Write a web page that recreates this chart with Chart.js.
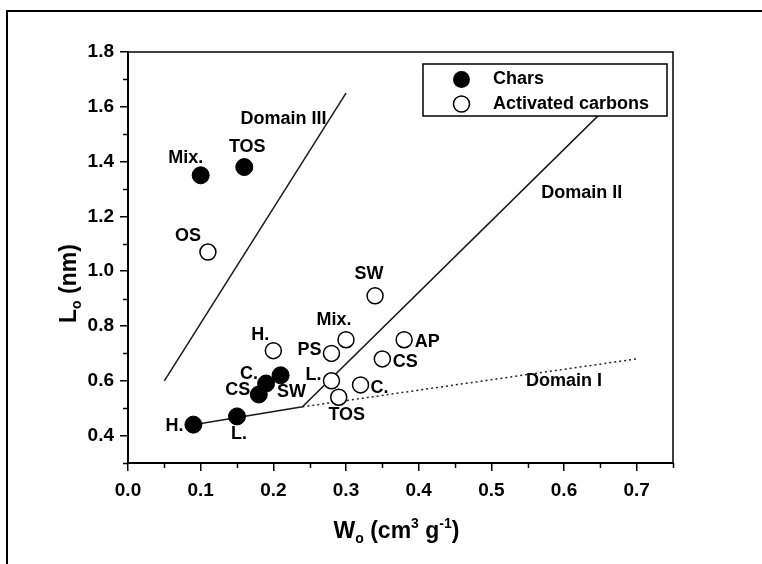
<!DOCTYPE html>
<html>
<head>
<meta charset="utf-8">
<script src="https://cdn.jsdelivr.net/npm/chart.js@4.4.0/dist/chart.umd.min.js"></script>
<style>
  html, body { margin: 0; padding: 0; background: #fff; }
  #wrap { width: 762px; height: 564px; }
</style>
</head>
<body>
<div id="wrap"><canvas id="c" width="762" height="564"></canvas></div>
<script>
// ---- data ----
const charsW = [0.09, 0.15, 0.18, 0.19, 0.21, 0.10, 0.16];
const charsL = [0.44, 0.47, 0.55, 0.59, 0.62, 1.35, 1.38];
const charsLabels = ['H.', 'L.', 'CS', 'C.', 'SW', 'Mix.', 'TOS'];

const acW = [0.11, 0.20, 0.28, 0.30, 0.34, 0.28, 0.29, 0.32, 0.35, 0.38];
const acL = [1.07, 0.71, 0.70, 0.75, 0.91, 0.60, 0.54, 0.585, 0.68, 0.75];
const acLabels = ['OS', 'H.', 'PS', 'Mix.', 'SW', 'L.', 'TOS', 'C.', 'CS', 'AP'];

const domain3W = [0.05, 0.30];
const domain3L = [0.60, 1.65];
const boundaryW = [0.09, 0.24, 0.65];
const boundaryL = [0.44, 0.505, 1.575];
const domain1W = [0.24, 0.70];
const domain1L = [0.505, 0.68];

const xTicks = [0.0, 0.1, 0.2, 0.3, 0.4, 0.5, 0.6, 0.7];
const yTicks = [0.4, 0.6, 0.8, 1.0, 1.2, 1.4, 1.6, 1.8];
const xMinor = [0.05, 0.15, 0.25, 0.35, 0.45, 0.55, 0.65, 0.75];
const yMinor = [0.3, 0.5, 0.7, 0.9, 1.1, 1.3, 1.5, 1.7];

const domainNames = ['Domain III', 'Domain II', 'Domain I'];
const domainNameW = [0.214, 0.6245, 0.600];
const domainNameL = [1.555, 1.284, 0.600];

// ---- layout / style (pixel offsets of point labels) ----
const charsLabelOffsets = [[-19, 1], [2, 18], [-21, -4], [-17, -10], [11, 17], [-15, -17], [3, -20]];
const acLabelOffsets = [[-20, -16], [-13, -16], [-22, -3], [-12, -20], [-6, -22], [-18, -6], [8, 18], [19, 3], [23, 3], [23, 2]];

const FONT = "'Liberation Sans', Arial, Helvetica, sans-serif";
const pts = (ws, ls) => ws.map((w, i) => ({ x: w, y: ls[i] }));

function drawRich(ctx, parts, x, y, align) {
  // parts: [text, size, dy]
  let total = 0;
  parts.forEach(p => { ctx.font = 'bold ' + p[1] + 'px ' + FONT; total += ctx.measureText(p[0]).width; });
  let cx = align === 'center' ? x - total / 2 : x;
  ctx.textAlign = 'left';
  ctx.textBaseline = 'alphabetic';
  parts.forEach(p => {
    ctx.font = 'bold ' + p[1] + 'px ' + FONT;
    ctx.fillText(p[0], cx, y + p[2]);
    cx += ctx.measureText(p[0]).width;
  });
}

const overlay = {
  id: 'overlay',
  beforeDraw(chart) {
    const ctx = chart.ctx;
    ctx.save();
    ctx.fillStyle = '#fff';
    ctx.fillRect(0, 0, chart.width, chart.height);
    ctx.restore();
  },
  afterDatasetsDraw(chart) {
    const ctx = chart.ctx;
    const xs = chart.scales.x, ys = chart.scales.y;
    const ca = chart.chartArea;
    ctx.save();
    ctx.fillStyle = '#000';
    ctx.textAlign = 'center';
    ctx.textBaseline = 'middle';
    ctx.font = 'bold 18px ' + FONT;
    charsLabels.forEach((t, i) => {
      const px = xs.getPixelForValue(charsW[i]), py = ys.getPixelForValue(charsL[i]);
      ctx.fillText(t, px + charsLabelOffsets[i][0], py + charsLabelOffsets[i][1]);
    });
    acLabels.forEach((t, i) => {
      const px = xs.getPixelForValue(acW[i]), py = ys.getPixelForValue(acL[i]);
      ctx.fillText(t, px + acLabelOffsets[i][0], py + acLabelOffsets[i][1]);
    });
    domainNames.forEach((t, i) => {
      ctx.fillText(t, xs.getPixelForValue(domainNameW[i]), ys.getPixelForValue(domainNameL[i]));
    });

    // legend box
    const bw = 244, bh = 52;
    const bx = ca.right - 6 - bw, by = ca.top + 12;
    ctx.fillStyle = '#fff';
    ctx.fillRect(bx, by, bw, bh);
    ctx.strokeStyle = '#000';
    ctx.lineWidth = 1.5;
    ctx.strokeRect(bx, by, bw, bh);
    const mx = bx + 38.5;
    ctx.beginPath(); ctx.arc(mx, by + 15.5, 8.5, 0, Math.PI * 2);
    ctx.fillStyle = '#000'; ctx.fill();
    ctx.beginPath(); ctx.arc(mx, by + 40, 8, 0, Math.PI * 2);
    ctx.fillStyle = '#fff'; ctx.fill(); ctx.lineWidth = 1.5; ctx.stroke();
    ctx.fillStyle = '#000';
    ctx.textAlign = 'left';
    ctx.font = 'bold 18px ' + FONT;
    ctx.fillText(chart.data.datasets[0].label, bx + 70, by + 15.5);
    ctx.fillText(chart.data.datasets[1].label, bx + 70, by + 40);
    ctx.restore();
  },
  afterDraw(chart) {
    const ctx = chart.ctx;
    const xs = chart.scales.x, ys = chart.scales.y;
    const ca = chart.chartArea;
    ctx.save();
    ctx.strokeStyle = '#000';
    // top and right frame of plot
    ctx.lineWidth = 1.5;
    ctx.beginPath();
    ctx.moveTo(ca.left, ca.top); ctx.lineTo(ca.right, ca.top); ctx.lineTo(ca.right, ca.bottom);
    ctx.stroke();
    // minor ticks
    ctx.lineWidth = 1.5;
    ctx.beginPath();
    xMinor.forEach(v => {
      const px = Math.round(xs.getPixelForValue(v)) + 0.5;
      ctx.moveTo(px, ca.bottom); ctx.lineTo(px, ca.bottom + 5);
    });
    yMinor.forEach(v => {
      const py = Math.round(ys.getPixelForValue(v)) + 0.5;
      ctx.moveTo(ca.left - 5, py); ctx.lineTo(ca.left, py);
    });
    ctx.stroke();
    // outer frame
    ctx.lineWidth = 2;
    ctx.beginPath();
    ctx.moveTo(7, chart.height); ctx.lineTo(7, 11); ctx.lineTo(chart.width, 11);
    ctx.stroke();
    // axis titles
    ctx.fillStyle = '#000';
    drawRich(ctx, [['W', 23, 0], ['o', 14, 5], [' (cm', 23, 0], ['3', 14, -10], [' g', 23, 0], ['-1', 14, -10], [')', 23, 0]], (ca.left + ca.right) / 2 - 4, 538, 'center');
    ctx.translate(76, 323);
    ctx.rotate(-Math.PI / 2);
    drawRich(ctx, [['L', 23, 0], ['o', 14, 5], [' (nm)', 23, 0]], 0, 0, 'left');
    ctx.restore();
  }
};

new Chart(document.getElementById('c'), {
  type: 'scatter',
  data: {
    datasets: [
      { label: 'Chars', data: pts(charsW, charsL), pointRadius: 8.5, pointBackgroundColor: '#000', pointBorderColor: '#000', pointBorderWidth: 1, order: 1 },
      { label: 'Activated carbons', data: pts(acW, acL), pointRadius: 8, pointBackgroundColor: '#fff', pointBorderColor: '#000', pointBorderWidth: 1.5, order: 0 },
      { label: 'Domain III boundary', data: pts(domain3W, domain3L), showLine: true, borderColor: '#1a1a1a', borderWidth: 1.5, pointRadius: 0, order: 5 },
      { label: 'Domain II boundary', data: pts(boundaryW, boundaryL), showLine: true, borderColor: '#1a1a1a', borderWidth: 1.5, pointRadius: 0, order: 5 },
      { label: 'Domain I boundary', data: pts(domain1W, domain1L), showLine: true, borderColor: '#222', borderWidth: 1.5, borderDash: [2, 3], pointRadius: 0, order: 5 }
    ]
  },
  options: {
    responsive: false,
    animation: false,
    events: [],
    layout: { padding: { left: 0, top: 52, right: 89, bottom: 0 } },
    plugins: { legend: { display: false }, tooltip: { enabled: false } },
    scales: {
      x: {
        type: 'linear', min: 0, max: 0.75,
        afterBuildTicks: s => { s.ticks = xTicks.map(v => ({ value: v })); },
        afterFit: s => { s.height = 101; },
        grid: { drawOnChartArea: false, drawTicks: true, tickLength: 8, color: '#000', lineWidth: 1.5 },
        border: { color: '#000', width: 2 },
        ticks: { color: '#000', padding: 8, font: { family: FONT, size: 19, weight: 'bold' }, callback: v => Number(v).toFixed(1), maxRotation: 0 },
        title: { display: false }
      },
      y: {
        type: 'linear', min: 0.3, max: 1.8,
        afterBuildTicks: s => { s.ticks = yTicks.map(v => ({ value: v })); },
        afterFit: s => { s.width = 128; },
        grid: { drawOnChartArea: false, drawTicks: true, tickLength: 8, color: '#000', lineWidth: 1.5 },
        border: { color: '#000', width: 2 },
        ticks: { color: '#000', padding: 6, font: { family: FONT, size: 19, weight: 'bold' }, callback: v => Number(v).toFixed(1) },
        title: { display: false }
      }
    }
  },
  plugins: [overlay]
});
</script>
</body>
</html>
